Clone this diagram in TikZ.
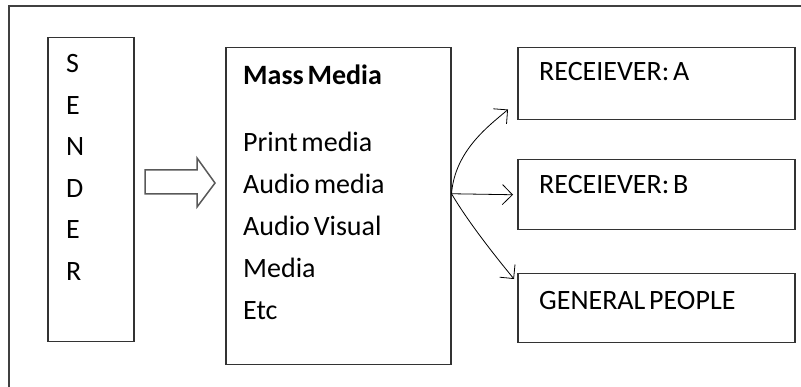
\documentclass[tikz,border=0pt]{standalone}
\usepackage{fontspec}
\setmainfont{Carlito}[WordSpace=0.6]
\usetikzlibrary{arrows.meta}

\begin{document}
\begin{tikzpicture}[x=1pt, y=-1pt,
		box/.style = {draw=black!80, line width=1.5pt, inner sep=0pt, anchor=north west},
		txt/.style = {anchor=base west, inner sep=0pt, font=\fontsize{28}{32}\selectfont},
		link/.style = {-{Straight Barb[length=10pt, width=20pt]}, line width=0.8pt}
	]
	\useasboundingbox (0,0) rectangle (801,387);
	\draw[line width=1.5pt, black!75] (9,387) -- (9,6) -- (801,6);
	% boxes
	\node[box, minimum width=86, minimum height=304] (sender) at (47,37) {};
	\node[box, minimum width=225, minimum height=317] (media) at (225,47) {};
	\node[box, minimum width=277, minimum height=72] (recA) at (517,47) {};
	\node[box, minimum width=277, minimum height=70] (recB) at (517,159) {};
	\node[box, minimum width=277, minimum height=69] (people) at (517,273) {};
	% texts
	\foreach \c [count=\i from 0] in {S,E,N,D,E,R}
		\node[txt] (s\i) at (66, 73+41.5*\i) {\c};
	\node[txt, font=\bfseries\fontsize{28}{32}\selectfont] (title) at (243,85) {Mass Media};
	\foreach \t [count=\i from 0] in {Print media, Audio media, Audio Visual, Media, Etc}
		\node[txt] (m\i) at (243, 152+42*\i) {\t};
	\node[txt] (labA) at (539,81) {RECEIEVER: A};
	\node[txt] (labB) at (539,194) {RECEIEVER: B};
	\node[txt] (labC) at (539,310) {GENERAL PEOPLE};
	% hollow arrow
	\draw[black!65, line width=1.5pt, fill=white] (145,170) -- (197,170) -- (197,158) -- (215,183)
		-- (197,207) -- (197,194) -- (145,194) -- cycle;
	% links
	\coordinate (fork) at ([yshift=12.5]media.east);
	\coordinate (tipA) at ([xshift=-9, yshift=11]recA.south west);
	\coordinate (tipB) at ([xshift=-4]recB.west);
	\coordinate (tipC) at ([xshift=-3, yshift=-6]people.north west);
	\draw[link] (fork) .. controls (455,150) and (490,125) .. (tipA);
	\draw[link] (fork) -- (tipB);
	\draw[link] (fork) .. controls (470,225) and (500,262) .. (tipC);
\end{tikzpicture}
\end{document}
